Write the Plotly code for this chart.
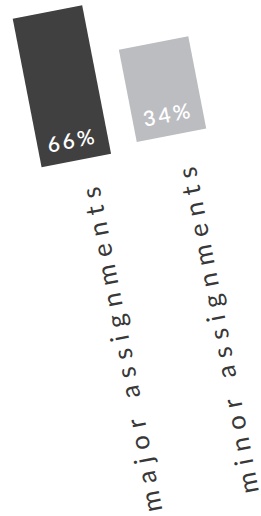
import plotly.graph_objects as go

# ---- data ----
categories = ["major assignments", "minor assignments"]
shares = [66, 34]
share_labels = ["66%", "34%"]

# ---- styles ----
bar_colors = ["#404040", "#bcbdc1"]
bar_base = [-29.6, -25.3]
W, H = 261, 516

lengths = [v - b for v, b in zip(shares, bar_base)]

fig = go.Figure(
    go.Bar(
        x=categories,
        y=lengths,
        base=bar_base,
        width=0.72,
        marker=dict(color=bar_colors, line=dict(width=0)),
        hoverinfo="skip",
    )
)

for cat, lab, b in zip(categories, share_labels, bar_base):
    fig.add_annotation(
        x=cat, y=b, xref="x", yref="y",
        text=lab, showarrow=False,
        yanchor="middle", xanchor="center", yshift=22,
        font=dict(family="Lato", size=21, color="#ffffff", weight=600),
    )

for cat in categories:
    fig.add_annotation(
        x=cat, y=0.336, xref="x", yref="paper",
        text=cat, showarrow=False, textangle=-90,
        xanchor="center", yanchor="middle", xshift=7.5,
        font=dict(family="Lato", size=26, color="#383838", weight=400),
    )

fig.update_layout(
    width=W, height=H,
    margin=dict(l=0, r=0, t=0, b=0),
    paper_bgcolor="#ffffff", plot_bgcolor="#ffffff",
    showlegend=False,
    xaxis=dict(range=[-0.976, 1.680], visible=False, fixedrange=True),
    yaxis=dict(range=[-259.4, 66.4], visible=False, fixedrange=True),
)

post = """
var d=document.getElementById('{plot_id}');
document.documentElement.style.overflow='hidden';
document.body.style.margin='0';
document.body.style.overflow='hidden';
d.style.transformOrigin='130.5px 258px';
d.style.transform='rotate(-11deg)';
d.querySelectorAll('text.annotation-text').forEach(function(t){
  if (t.textContent.indexOf('%')>=0) { t.style.letterSpacing='3px'; }
  else { t.style.letterSpacing='7.5px'; }
});
"""

fig.write_html("out.html", config={"displayModeBar": False, "staticPlot": True}, post_script=post)
